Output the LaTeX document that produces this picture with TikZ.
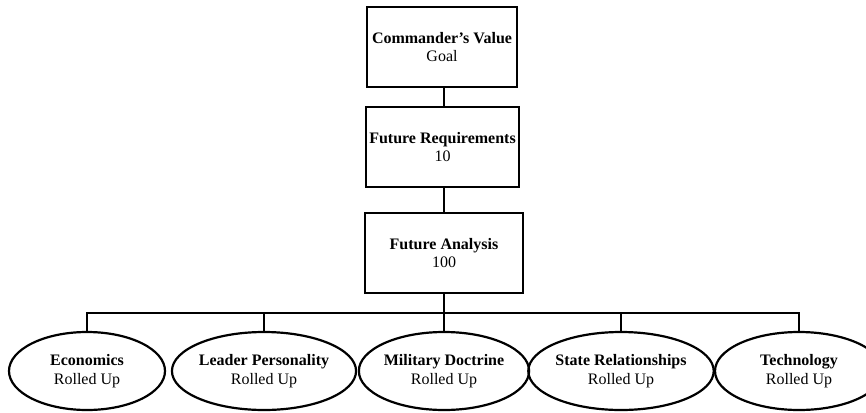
\documentclass[tikz,border=0pt]{standalone}
\usepackage{fontspec}
\setmainfont{Liberation Serif}
\usetikzlibrary{shapes.geometric}
\begin{document}
\begin{tikzpicture}[x=1pt,y=-1pt,
  every node/.style={align=center, font=\fontsize{16}{18.5}\selectfont, inner sep=0pt},
  levelbox/.style={draw, line width=2.6pt, rectangle, minimum height=80},
  factor/.style={draw, line width=2.2pt, ellipse, minimum width=156, minimum height=78},
  link/.style={line width=2.2pt}]
  % page frame
  \useasboundingbox (0,0) rectangle (866,412);

  % hierarchy of value boxes
  \node[levelbox, minimum width=150] (goal) at (442,47) {\textbf{Commander’s Value}\\Goal};
  \node[levelbox, minimum width=153] (req)  at (442.5,147) {\textbf{Future Requirements}\\10};
  \node[levelbox, minimum width=158] (ana)  at (444,253) {\textbf{Future Analysis}\\100};

  % rolled-up factors
  \node[factor] (eco)  at (87,371)  {\textbf{Economics}\\Rolled Up};
  \node[factor] (lead) at (264,371) {\textbf{Leader Personality}\\Rolled Up};
  \node[factor] (mil)  at (444,371) {\textbf{Military Doctrine}\\Rolled Up};
  \node[factor] (state) at (621,371) {\textbf{State Relationships}\\Rolled Up};
  \node[factor, minimum width=168] (tech) at (799,371) {\textbf{Technology}\\Rolled Up};

  % vertical links between the boxes
  \draw[link] (goal.south -| ana.north) -- (ana.north |- req.north);
  \draw[link] (req.south -| ana.north) -- (ana.north);

  % distribution bar
  \coordinate (bar) at (0,313);
  \draw[link] (ana.south) -- (mil.north);
  \draw[link] (eco.north) -- (eco.north |- bar) -- (tech.north |- bar) -- (tech.north);
  \draw[link] (lead.north) -- (lead.north |- bar);
  \draw[link] (state.north) -- (state.north |- bar);
\end{tikzpicture}
\end{document}
